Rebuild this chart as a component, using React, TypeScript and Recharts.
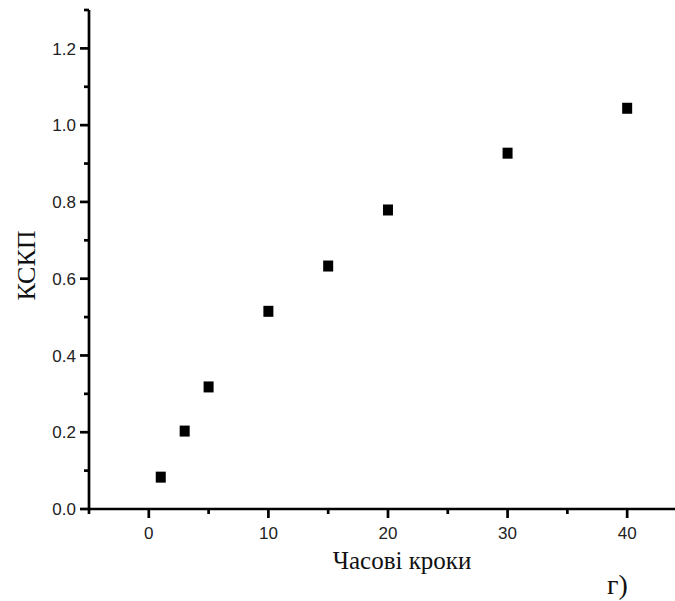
import { ScatterChart, Scatter, XAxis, YAxis } from 'recharts';

// time steps and the RMSE-like metric (КСКП)
const steps = [1, 3, 5, 10, 15, 20, 30, 40];
const kskp = [0.083, 0.203, 0.318, 0.515, 0.633, 0.779, 0.927, 1.044];

const xTicks = [-5, 0, 5, 10, 15, 20, 25, 30, 35, 40];
const yTicks = [0, 0.1, 0.2, 0.3, 0.4, 0.5, 0.6, 0.7, 0.8, 0.9, 1.0, 1.1, 1.2, 1.3];

const data = steps.map((s, i) => ({ step: s, value: kskp[i] }));

const SANS = '"Liberation Sans", Arial, sans-serif';
const SERIF = '"Liberation Serif", "Times New Roman", serif';
const LINE_W = 2.7;

function YTick({ x, y, payload }: any) {
  const major = Math.round(payload.value * 10) % 2 === 0;
  return (
    <g>
      <line x1={x} x2={x - (major ? 9 : 5)} y1={y} y2={y} stroke="#000" strokeWidth={LINE_W} />
      {major && (
        <text x={x - 13} y={y} dy="0.36em" textAnchor="end" fontFamily={SANS} fontSize={17} fill="#222">
          {payload.value.toFixed(1)}
        </text>
      )}
    </g>
  );
}

function XTick({ x, y, payload }: any) {
  const major = payload.value % 10 === 0;
  return (
    <g>
      <line x1={x} x2={x} y1={y} y2={y + (major ? 9 : 5)} stroke="#000" strokeWidth={LINE_W} />
      {major && (
        <text x={x} y={y + 30} textAnchor="middle" fontFamily={SANS} fontSize={17} fill="#222">
          {payload.value}
        </text>
      )}
    </g>
  );
}

function XTitle({ viewBox }: any) {
  const { x, y, width } = viewBox;
  return (
    <g>
      <text x={x + width / 2 + 20} y={y + 60} textAnchor="middle" fontFamily={SERIF} fontSize={25} fill="#111">
        Часові кроки
      </text>
      <text x={x + width - 68} y={y + 85} fontFamily={SERIF} fontSize={28} fill="#111">
        г)
      </text>
    </g>
  );
}

function YTitle({ viewBox }: any) {
  const { y, height } = viewBox;
  const bx = 35;
  const cy = y + height / 2 + 6;
  return (
    <text
      x={bx}
      y={cy}
      textAnchor="middle"
      transform={`rotate(-90, ${bx}, ${cy})`}
      fontFamily={SERIF}
      fontSize={26}
      fill="#111"
    >
      КСКП
    </text>
  );
}

function Square({ cx, cy }: any) {
  return <rect x={cx - 5} y={cy - 5.5} width={10} height={11} fill="#000" />;
}

export default function App() {
  return (
    <div style={{ position: 'absolute', left: 0, top: 0, width: 675, height: 601, background: '#fff' }}>
      <ScatterChart width={675} height={601} margin={{ top: 10, right: 0, bottom: 0, left: 0 }}>
        <XAxis
          type="number"
          dataKey="step"
          domain={[-5, 44]}
          ticks={xTicks}
          interval={0}
          height={92}
          tickSize={0}
          tickMargin={0}
          tickLine={false}
          tick={<XTick />}
          axisLine={{ stroke: '#000', strokeWidth: LINE_W }}
          label={<XTitle />}
        />
        <YAxis
          type="number"
          dataKey="value"
          domain={[0, 1.3]}
          ticks={yTicks}
          interval={0}
          width={89}
          tickSize={0}
          tickMargin={0}
          tickLine={false}
          tick={<YTick />}
          axisLine={{ stroke: '#000', strokeWidth: LINE_W }}
          label={<YTitle />}
        />
        <Scatter data={data} fill="#000" shape={<Square />} isAnimationActive={false} />
      </ScatterChart>
    </div>
  );
}
